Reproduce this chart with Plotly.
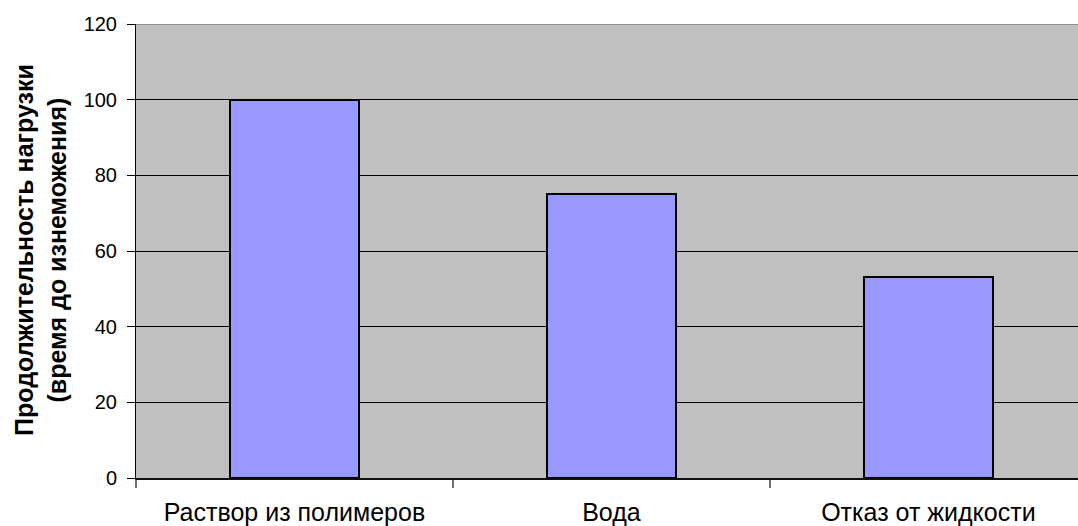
import plotly.graph_objects as go

categories = ["Раствор из полимеров", "Вода", "Отказ от жидкости"]
durations = [100, 75, 53]
y_ticks = [0, 20, 40, 60, 80, 100, 120]
y_title = "<b>Продолжительность нагрузки<br>(время до изнеможения)</b>"

fig = go.Figure()
fig.add_trace(go.Bar(
    x=categories,
    y=durations,
    width=0.405,
    marker=dict(color="#9999FF", line=dict(color="#000000", width=2)),
    hoverinfo="x+y",
))

fig.update_layout(
    width=1078,
    height=526,
    margin=dict(l=136, r=0, t=24, b=48),
    paper_bgcolor="#FFFFFF",
    plot_bgcolor="#C0C0C0",
    font=dict(family="Arial, Liberation Sans, sans-serif", color="#000000", size=20),
    showlegend=False,
    bargap=0,
)

fig.update_xaxes(
    type="category",
    range=[-0.5, 2.472],
    automargin=False,
    showgrid=False,
    showline=True,
    linecolor="#111111",
    linewidth=2,
    ticks="outside",
    tickson="boundaries",
    ticklen=8,
    tickwidth=2,
    tickcolor="#707070",
    tickfont=dict(size=25),
    ticklabelstandoff=11,
)

fig.update_yaxes(
    range=[0, 120],
    automargin=False,
    tickvals=y_ticks,
    ticktext=[str(v) for v in y_ticks],
    showgrid=True,
    gridcolor="#000000",
    gridwidth=1,
    zeroline=False,
    showline=True,
    linecolor="#000000",
    linewidth=1,
    ticks="outside",
    ticklen=8,
    tickcolor="#000000",
    tickfont=dict(size=20),
    ticklabelstandoff=6,
)

# plot area border along the top edge
fig.add_shape(type="line", xref="paper", yref="y", x0=0, x1=1, y0=120, y1=120,
              line=dict(color="#808080", width=1.5), layer="above")

fig.add_annotation(
    text=y_title,
    xref="paper", yref="paper",
    x=(40 - 136) / 942, y=(478 - 250) / 454,
    xanchor="center", yanchor="middle",
    textangle=-90,
    showarrow=False,
    font=dict(size=25, family="Arial, Liberation Sans, sans-serif"),
)

fig.write_html("out.html")
